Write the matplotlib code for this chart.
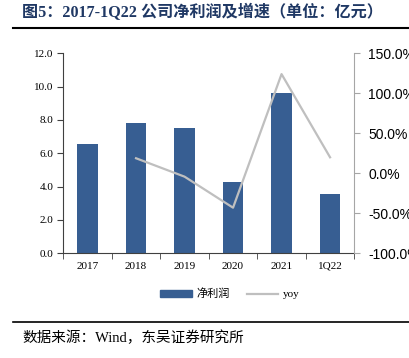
import numpy as np
import matplotlib.pyplot as plt
from matplotlib.lines import Line2D

# Data
categories = ['2017', '2018', '2019', '2020', '2021', '1Q22']
net_profit = [6.54, 7.80, 7.52, 4.30, 9.62, 3.55]
yoy_cats = ['2018', '2019', '2020', '2021', '1Q22']
yoy = [18.8, -4.2, -43.0, 124.0, 20.0]

cjk = ['Noto Sans CJK SC', 'DejaVu Sans']
serif = ['Liberation Serif', 'DejaVu Serif']
mixed = ['Liberation Serif', 'Noto Sans CJK SC']

fig = plt.figure(figsize=(4.09, 3.58), dpi=100)
ax = fig.add_axes([63.3 / 409, 1 - 253.3 / 358, 291 / 409, 200 / 358])

x = np.arange(len(categories))
ax.bar(x, net_profit, width=0.43, color='#375E92', zorder=2)
ax.set_xlim(-0.5, len(categories) - 0.5)
ax.set_ylim(0, 12)
ax.set_yticks(np.arange(0, 12.1, 2))
ax.set_yticklabels([f'{v:.1f}' for v in np.arange(0, 12.1, 2)], family=serif, fontsize=8)
ax.set_xticks(x)
ax.set_xticklabels(categories, family=serif, fontsize=8)
ax.tick_params(axis='x', length=0, pad=6)
ax.tick_params(axis='y', length=4, direction='out', color='#404040', pad=3)
# category boundary ticks on x axis
ax.set_xticks(np.arange(-0.5, len(categories), 1), minor=True)
ax.tick_params(axis='x', which='minor', length=4, direction='out', color='#404040')
for s in ['top', 'right']:
    ax.spines[s].set_visible(False)
ax.spines['left'].set_color('#404040')
ax.spines['bottom'].set_color('#404040')

ax2 = ax.twinx()
xi = [categories.index(c) for c in yoy_cats]
ax2.plot(xi, yoy, color='#BFBFBF', lw=1.6, zorder=3)
ax2.set_ylim(-100, 150)
ticks = np.arange(-100, 151, 50)
ax2.set_yticks(ticks)
ax2.set_yticklabels([f'{v:.1f}%' for v in ticks], family=['Liberation Sans', 'DejaVu Sans'], fontsize=10)
ax2.tick_params(axis='y', length=4, direction='out', color='#A6A6A6', pad=6)
for s in ['top', 'left', 'bottom']:
    ax2.spines[s].set_visible(False)
ax2.spines['right'].set_color('#A6A6A6')

# Legend
handles = [plt.Rectangle((0, 0), 1, 1, color='#375E92'),
           Line2D([0], [0], color='#BFBFBF', lw=1.6)]
leg = fig.legend(handles, ['净利润', 'yoy'], loc='center', bbox_to_anchor=(230 / 409, 1 - 294 / 358),
                 ncol=2, frameon=False, prop={'family': mixed, 'size': 8},
                 handlelength=2.8, handleheight=0.5, columnspacing=1.6, handletextpad=0.4)

# Title and source
fig.text(22 / 409, 1 - 13 / 358, '图5：2017-1Q22 公司净利润及增速（单位：亿元）',
         family=mixed, fontsize=11.6, fontweight='bold', color='#1F3864', va='center', ha='left')
fig.add_artist(Line2D([13 / 409, 1], [1 - 28 / 358] * 2, color='black', lw=1.5))
fig.add_artist(Line2D([13 / 409, 1], [1 - 322 / 358] * 2, color='black', lw=1.2))
fig.text(22 / 409, 1 - 338 / 358, '数据来源：Wind，东吴证券研究所',
         family=mixed, fontsize=10.5, color='black', va='center', ha='left')

fig.savefig('out.png', dpi=100)
